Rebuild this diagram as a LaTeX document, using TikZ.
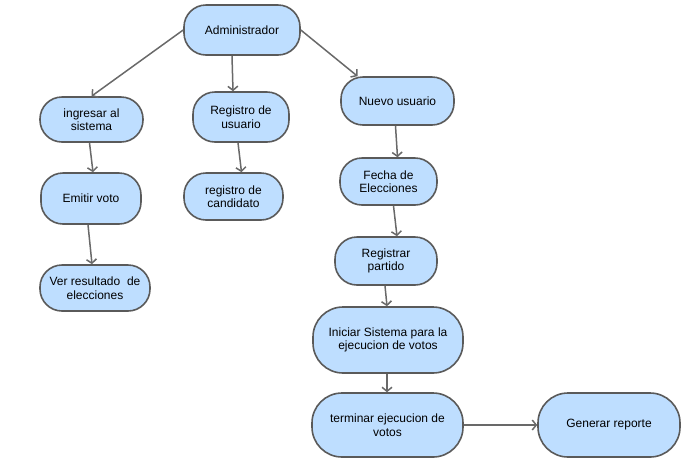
\documentclass[tikz,border=0pt]{standalone}
\usepackage{fontspec}
\setmainfont{Liberation Sans}
\usetikzlibrary{arrows.meta}
\definecolor{boxblue}{RGB}{190,222,255}
\definecolor{boxline}{RGB}{90,90,90}
\definecolor{arrgray}{RGB}{105,105,105}
\begin{document}
\begin{tikzpicture}[x=1pt,y=-1pt,
        paso/.style={draw=boxline,fill=boxblue,line width=1.6pt,rounded corners=22pt,
          inner sep=0pt,align=center,font=\fontsize{12}{13.5}\selectfont},
        flecha/.style={draw=arrgray,line width=1.5pt,-{Straight Barb[length=4pt,width=10pt]}}]
        \useasboundingbox (0,0) rectangle (682,459);
        \node[paso,minimum width=116pt,minimum height=50pt] (admin) at (242,30) {Administrador};
        \node[paso,minimum width=103pt,minimum height=45pt] (ingresar) at (91.5,119.5) {ingresar al\\sistema};
        \node[paso,minimum width=96pt,minimum height=50pt] (regusu) at (241,117) {Registro de\\usuario};
        \node[paso,minimum width=113pt,minimum height=48pt] (nuevo) at (397.5,101) {Nuevo usuario};
        \node[paso,minimum width=100pt,minimum height=51pt] (emitir) at (91,198.5) {Emitir voto};
        \node[paso,minimum width=99pt,minimum height=47pt] (regcand) at (233.5,196.5) {registro de\\candidato};
        \node[paso,minimum width=110pt,minimum height=46pt] (ver) at (95,288) {Ver resultado~~de\\elecciones};
        \node[paso,minimum width=97pt,minimum height=47pt] (fecha) at (388.5,181.5) {Fecha de\\Elecciones};
        \node[paso,minimum width=102pt,minimum height=48pt] (regpart) at (386,261) {Registrar\\partido};
        \node[paso,rounded corners=30pt,minimum width=150pt,minimum height=66pt] (iniciar) at (388,340) {Iniciar Sistema para la\\ejecucion de votos};
        \node[paso,rounded corners=30pt,minimum width=151pt,minimum height=64pt] (terminar) at (387.5,425) {terminar ejecucion de\\votos};
        \node[paso,rounded corners=30pt,minimum width=142pt,minimum height=64pt] (generar) at (609,425) {Generar reporte};
        % ramas del administrador
        \draw[flecha] (admin.west) -- (ingresar.north);
        \draw[flecha] ([xshift=-10pt]admin.south) -- ([xshift=-8pt]regusu.north);
        \draw[flecha] (admin.east) -- ([xshift=-40pt]nuevo.north);
        \draw[flecha] ([xshift=-2pt]ingresar.south) -- ([xshift=2pt]emitir.north);
        \draw[flecha] ([xshift=-3pt]emitir.south) -- ([xshift=-3pt]ver.north);
        \draw[flecha] ([xshift=-3pt]regusu.south) -- ([xshift=8pt]regcand.north);
        \draw[flecha] ([xshift=-2pt]nuevo.south) -- ([xshift=9pt]fecha.north);
        \draw[flecha] ([xshift=5pt]fecha.south) -- ([xshift=11pt]regpart.north);
        \draw[flecha] ([xshift=-1pt]regpart.south) -- ([xshift=-1pt]iniciar.north);
        \draw[flecha] ([xshift=-1pt]iniciar.south) -- ([xshift=-0.5pt]terminar.north);
        \draw[flecha] (terminar.east) -- (terminar.east -| generar.west);
\end{tikzpicture}
\end{document}
